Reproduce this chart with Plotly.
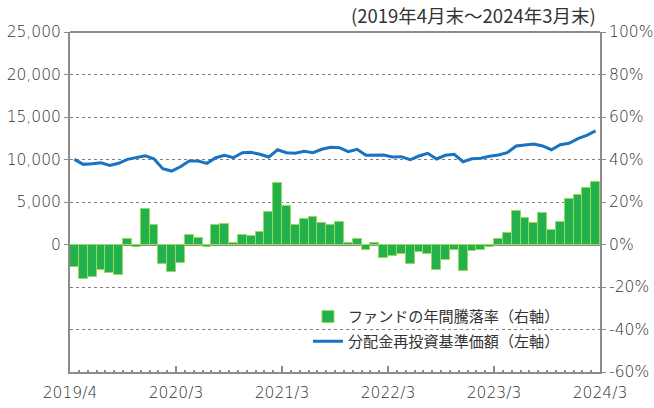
import plotly.graph_objects as go

# Data (monthly, 2019/4 - 2024/3)
fund_return_pct = [-10.6, -16.0, -15.3, -12.1, -13.4, -14.2, 2.4, -1.3, 16.5, 9.1,
                   -9.0, -13.0, -8.5, 4.5, 3.1, -1.0, 9.4, 9.7, 0.9, 4.7,
                   3.9, 5.7, 15.2, 29.0, 18.0, 9.1, 11.9, 13.0, 9.9, 9.0,
                   10.8, 0.9, 2.7, -2.4, 0.8, -6.5, -5.5, -4.6, -9.0, -3.6,
                   -4.7, -12.1, -7.4, -2.8, -12.6, -3.2, -2.4, -1.3, 2.7, 5.2,
                   16.0, 12.4, 10.2, 14.6, 6.6, 10.8, 21.5, 23.4, 26.6, 29.4]
nav_reinvested = [10020, 9430, 9500, 9620, 9310, 9550, 10020, 10210, 10450, 10090,
                  8910, 8640, 9150, 9820, 9820, 9550, 10210, 10490, 10210, 10800,
                  10850, 10610, 10290, 11150, 10800, 10730, 10960, 10800, 11200, 11440,
                  11390, 10920, 11200, 10490, 10490, 10530, 10290, 10330, 9970, 10410,
                  10730, 10060, 10490, 10610, 9740, 10090, 10140, 10380, 10530, 10800,
                  11590, 11670, 11830, 11590, 11150, 11740, 11910, 12450, 12850, 13360]
month_pos = [i + 0.5 for i in range(len(fund_return_pct))]
x_tick_vals = [0, 12, 24, 36, 48, 60]
x_tick_text = ["2019/4", "2020/3", "2021/3", "2022/3", "2023/3", "2024/3"]
left_ticks = [0, 5000, 10000, 15000, 20000, 25000]
right_ticks = [-60, -40, -20, 0, 20, 40, 60, 80, 100]

FONT = "Noto Sans CJK JP"
NUM_FONT = "DejaVu Sans, Noto Sans CJK JP"
TXT = "#333333"
AX = "#8c8c8c"
TICK_SIZE = 15.5

tickfont = dict(family=NUM_FONT, size=TICK_SIZE, color=TXT, weight=300)

fig = go.Figure()
fig.add_trace(go.Bar(
    x=month_pos, y=fund_return_pct, name="ファンドの年間騰落率（右軸）",
    marker=dict(color="#22b14c", line=dict(color="#9ad95a", width=1)),
    width=1.0, yaxis="y", legendgroup="a",
))
fig.add_trace(go.Scatter(
    x=month_pos, y=nav_reinvested, name="分配金再投資基準価額（左軸）",
    mode="lines", line=dict(color="#1a73c2", width=3), yaxis="y2", legendgroup="b",
))

fig.update_layout(
    width=654, height=408,
    margin=dict(l=70, r=54, t=32, b=36, autoexpand=False),
    paper_bgcolor="white", plot_bgcolor="white",
    font=dict(family=FONT, size=TICK_SIZE, color=TXT),
    bargap=0,
    showlegend=True,
    legend=dict(x=0.449, y=0.211, xanchor="left", yanchor="top",
                bgcolor="rgba(0,0,0,0)", font=dict(size=15.1, color=TXT),
                itemwidth=30, tracegroupgap=2),
    xaxis=dict(range=[0, 60], tickmode="array", tickvals=x_tick_vals, ticktext=x_tick_text,
               showline=True, linecolor=AX, linewidth=2, ticks="inside", ticklen=6,
               tickcolor=AX, tickwidth=1.5, showgrid=False, zeroline=False, automargin=False,
               ticklabelstandoff=5,
               minor=dict(ticks="inside", ticklen=2, tickcolor=AX, dtick=1, showgrid=False),
               tickfont=tickfont),
    yaxis=dict(side="right", range=[-60, 100], tickvals=right_ticks,
               ticktext=[f"{v}%" for v in right_ticks], automargin=False,
               showline=True, linecolor=AX, linewidth=2, ticks="outside", ticklen=4,
               tickcolor=AX, showgrid=True, gridcolor="#808080", griddash="dot", gridwidth=1,
               zeroline=True, zerolinecolor=AX, zerolinewidth=2,
               tickfont=tickfont),
    yaxis2=dict(side="left", overlaying="y", range=[-15000, 25000], tickvals=left_ticks,
                ticktext=[f"{v:,}" for v in left_ticks], automargin=False,
                showline=True, linecolor=AX, linewidth=2, ticks="outside", ticklen=4,
                tickcolor=AX, showgrid=False, zeroline=False,
                tickfont=tickfont),
    shapes=[dict(type="line", xref="paper", yref="paper", x0=0, x1=1, y0=1, y1=1,
                 line=dict(color=AX, width=2))],
    annotations=[dict(text="(2019年4月末～2024年3月末)", xref="paper", yref="paper",
                      x=1.0, y=1.0, xanchor="right", yanchor="bottom", yshift=2, xshift=-2,
                      showarrow=False, font=dict(size=18.5, color=TXT))],
)

fig.write_html("out.html", config={"displayModeBar": False},
               post_script="document.body.style.margin='0';")
